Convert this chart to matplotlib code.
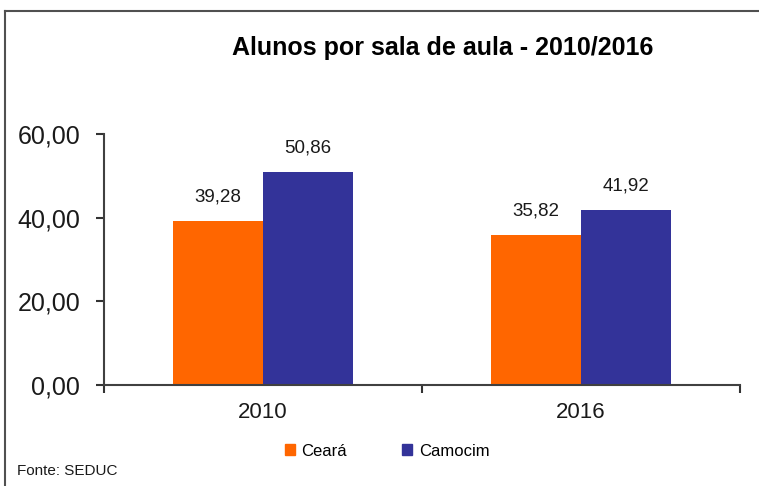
import numpy as np
import matplotlib.pyplot as plt
from matplotlib.lines import Line2D
from matplotlib.patches import Patch

plt.rcParams['font.family'] = ['Liberation Sans', 'DejaVu Sans']

#--------- Chart data -----------
years = ["2010", "2016"]
ceara = [39.28, 35.82]
camocim = [50.86, 41.92]
series_names = ["Ceará", "Camocim"]
y_ticks = [0, 20, 40, 60]

orange = "#FF6600"
blue = "#333399"

fig = plt.figure(figsize=(7.59, 4.86), dpi=100)
ax = fig.add_axes([0.137, 0.2078, 0.838, 0.5165])

x = np.arange(len(years))
w = 0.283
b1 = ax.bar(x - w / 2, ceara, width=w, color=orange)
b2 = ax.bar(x + w / 2, camocim, width=w, color=blue)

def br(v):
    return f"{v:.2f}".replace(".", ",")

# value labels above the bars
for bars, vals in [(b1, ceara), (b2, camocim)]:
    for rect, v in zip(bars, vals):
        ax.annotate(br(v), (rect.get_x() + rect.get_width() / 2, v),
                    xytext=(0, 11), textcoords="offset points",
                    ha="center", va="bottom", fontsize=13.5, color="#1a1a1a")

ax.set_xlim(-0.5, len(years) - 0.5)
ax.set_ylim(0, 60)
ax.set_yticks(y_ticks)
ax.set_yticklabels([br(t) for t in y_ticks], fontsize=18, color="#1a1a1a")
ax.set_xticks(x)
ax.set_xticklabels(years, fontsize=16, color="#1a1a1a")
ax.set_xticks(np.arange(len(years) + 1) - 0.5, minor=True)
ax.tick_params(axis="x", which="major", length=0, pad=12)
ax.tick_params(axis="x", which="minor", length=6, width=1.5, color="#333333")
ax.tick_params(axis="y", length=6, width=1.5, color="#333333", pad=11)

for s in ["top", "right"]:
    ax.spines[s].set_visible(False)
for s in ["left", "bottom"]:
    ax.spines[s].set_color("#404040")
    ax.spines[s].set_linewidth(1.5)

fig.text(0.583, 0.902, "Alunos por sala de aula - 2010/2016", ha="center", va="center",
         fontsize=18, fontweight="bold")

handles = [Patch(color=orange), Patch(color=blue)]
fig.legend(handles, series_names, loc="center", bbox_to_anchor=(0.51, 0.072),
           ncol=2, frameon=False, fontsize=12, handlelength=0.6, handleheight=0.6,
           handletextpad=0.4, columnspacing=3.3)

fig.text(0.022, 0.03, "Fonte: SEDUC", ha="left", va="center", fontsize=11, color="#1a1a1a")

# outer frame (left and top only visible)
fig.add_artist(Line2D([0.0066, 0.0066], [0, 0.978], color="#505050", lw=1.5, transform=fig.transFigure))
fig.add_artist(Line2D([0.0066, 1.0], [0.978, 0.978], color="#505050", lw=1.5, transform=fig.transFigure))

fig.savefig("out.png", dpi=100)
